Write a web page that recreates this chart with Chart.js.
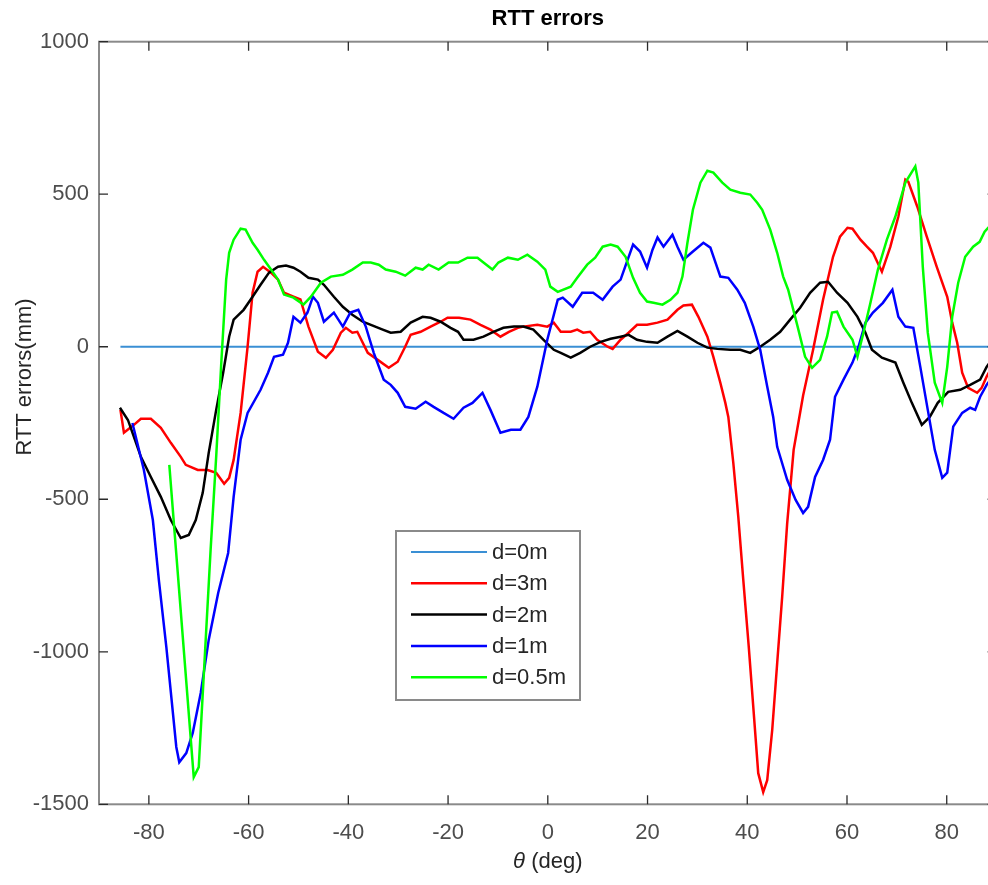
<!DOCTYPE html>
<html>
<head>
<meta charset="utf-8">
<title>RTT errors</title>
<script src="https://cdn.jsdelivr.net/npm/chart.js@4.4.1/dist/chart.umd.min.js"></script>
<style>
  html, body { margin: 0; padding: 0; background: #fff; overflow: hidden; }
  #wrap { width: 1000px; height: 885px; }
</style>
</head>
<body>
<div id="wrap"><canvas id="rttChart" width="1000" height="885"></canvas></div>
<script>
// axis ticks
const xTicks = [-80, -60, -40, -20, 0, 20, 40, 60, 80];
const yTicks = [-1500, -1000, -500, 0, 500, 1000];

const seriesNames = ['d=0m', 'd=3m', 'd=2m', 'd=1m', 'd=0.5m'];
const seriesColors = ['#3a8fd4', '#ff0000', '#000000', '#0000ff', '#00ff00'];

// [theta (deg), RTT error (mm)]
const err0m = [[-85.7, 0], [90, 0]];

const err3m = [[-85.7,-207],[-85.0,-282],[-83.0,-256],[-81.6,-236],[-79.6,-236],[-77.6,-266],[-75.6,-315],[-73.6,-361],[-72.6,-387],[-70.2,-404],[-68.2,-404],[-66.5,-413],[-64.9,-449],[-63.9,-430],[-63.0,-371],[-61.6,-217],[-60.2,0],[-59.2,177],[-58.2,246],[-57.1,262],[-55.5,243],[-54.1,220],[-52.9,177],[-51.0,164],[-49.6,155],[-48.0,66],[-46.1,-16],[-44.5,-36],[-43.1,-10],[-41.5,46],[-40.5,62],[-39.2,46],[-38.2,49],[-36.1,-20],[-34.1,-43],[-31.9,-69],[-30.1,-49],[-28.6,0],[-27.5,39],[-25.5,49],[-23.5,66],[-21.5,82],[-20.1,95],[-17.8,95],[-15.5,89],[-13.5,72],[-11.5,56],[-9.5,33],[-7.8,49],[-6.0,62],[-4.9,66],[-2.1,72],[-0.1,66],[1.2,79],[2.6,49],[4.6,49],[5.9,56],[7.1,46],[8.5,49],[9.9,23],[12.0,0],[13.0,-7],[14.6,23],[16.2,46],[17.9,72],[19.9,72],[22.0,79],[24.0,89],[26.0,121],[27.2,135],[28.9,138],[30.2,98],[32.0,33],[33.2,-33],[34.6,-118],[35.6,-184],[36.2,-230],[37.2,-381],[38.2,-558],[39.2,-764],[40.3,-984],[41.3,-1201],[42.2,-1398],[43.2,-1460],[44.0,-1421],[45.0,-1257],[46.0,-1037],[47.0,-820],[48.0,-580],[49.3,-338],[51.2,-160],[53.2,-10],[55.2,154],[57.2,295],[58.6,361],[60.1,390],[61.1,387],[62.7,351],[64.0,328],[65.2,308],[67.0,246],[68.7,328],[70.3,427],[71.7,548],[72.3,541],[74.1,459],[76.0,361],[78.0,262],[80.1,164],[81.1,79],[82.1,13],[83.1,-85],[84.3,-135],[86.1,-151],[87.0,-135],[88.0,-98],[90.0,-40]];

const err2m = [[-85.8,-200],[-84.2,-240],[-83.0,-295],[-81.6,-361],[-79.6,-427],[-77.6,-492],[-75.6,-568],[-73.6,-627],[-72.0,-617],[-70.6,-568],[-69.2,-479],[-68.0,-348],[-66.5,-207],[-65.1,-85],[-63.9,33],[-63.0,89],[-61.0,121],[-59.2,164],[-57.6,203],[-55.9,243],[-54.1,262],[-52.5,266],[-51.0,259],[-49.6,246],[-48.0,226],[-46.1,220],[-44.9,203],[-42.9,164],[-41.1,131],[-39.2,105],[-37.1,82],[-35.1,69],[-33.1,56],[-31.5,46],[-29.5,49],[-27.5,79],[-25.1,98],[-23.5,95],[-21.5,82],[-19.5,62],[-18.0,49],[-16.9,23],[-14.9,23],[-12.9,33],[-10.9,49],[-8.9,62],[-6.8,66],[-4.9,66],[-2.9,56],[-0.9,23],[1.2,-10],[2.6,-20],[4.6,-36],[6.5,-20],[8.5,0],[10.6,16],[12.6,26],[14.6,33],[16.2,39],[17.9,23],[19.9,16],[22.0,13],[24.0,33],[26.0,52],[28.0,33],[30.0,13],[32.0,-3],[34.0,-7],[36.6,-10],[38.6,-10],[40.6,-20],[42.6,0],[44.6,23],[46.6,49],[48.6,89],[50.6,128],[52.6,177],[54.6,210],[56.2,213],[58.0,177],[60.1,144],[62.1,98],[63.7,46],[65.0,-10],[67.0,-36],[69.7,-52],[71.3,-118],[73.0,-184],[75.0,-256],[76.6,-230],[78.2,-184],[80.3,-148],[82.7,-141],[84.7,-125],[86.7,-108],[88.0,-66],[90.0,-20]];

const err1m = [[-83.3,-250],[-81.0,-404],[-79.2,-568],[-78.0,-764],[-76.5,-984],[-75.5,-1148],[-74.5,-1312],[-73.9,-1362],[-72.5,-1332],[-71.2,-1266],[-69.6,-1135],[-68.0,-961],[-66.1,-807],[-64.1,-676],[-63.0,-492],[-61.6,-305],[-60.2,-217],[-57.6,-141],[-56.1,-85],[-54.9,-33],[-53.1,-26],[-52.1,13],[-51.0,98],[-49.6,79],[-48.2,112],[-47.1,164],[-46.1,144],[-44.9,82],[-42.9,112],[-41.1,66],[-39.6,112],[-38.0,121],[-36.5,66],[-34.9,-20],[-32.9,-108],[-31.5,-125],[-30.1,-151],[-28.6,-197],[-26.5,-203],[-24.5,-180],[-22.9,-197],[-20.9,-217],[-18.9,-236],[-16.9,-200],[-15.1,-184],[-13.1,-151],[-11.5,-207],[-9.5,-282],[-7.4,-272],[-5.5,-272],[-3.9,-230],[-2.1,-131],[-0.1,23],[2.0,154],[3.0,161],[5.0,131],[6.9,177],[9.1,177],[11.0,154],[13.0,197],[14.6,220],[16.0,285],[17.1,335],[18.5,312],[19.9,259],[21.0,318],[22.0,358],[23.2,328],[25.0,367],[26.0,328],[27.2,285],[29.1,312],[31.2,341],[32.6,325],[34.6,230],[36.2,226],[38.0,187],[39.5,144],[41.2,66],[42.6,-10],[44.0,-130],[45.2,-230],[46.0,-328],[48.0,-436],[49.7,-502],[51.2,-545],[52.2,-525],[53.6,-427],[55.2,-371],[56.6,-305],[57.6,-164],[59.3,-108],[61.1,-52],[62.3,0],[63.7,79],[65.2,112],[67.2,144],[69.1,187],[70.3,98],[71.7,66],[73.3,62],[74.7,-66],[76.2,-207],[77.6,-338],[79.1,-430],[80.1,-413],[81.3,-262],[83.1,-217],[84.7,-200],[85.7,-207],[86.7,-164],[88.0,-125],[90.0,-80]];

const err05m = [[-75.9,-387],[-71.0,-1411],[-70.0,-1378],[-68.6,-960],[-67.6,-660],[-66.5,-360],[-65.5,-60],[-64.5,220],[-63.9,308],[-63.0,351],[-61.6,387],[-60.6,384],[-59.2,341],[-58.2,318],[-56.9,285],[-55.5,253],[-54.1,220],[-52.9,171],[-51.0,161],[-49.0,138],[-47.5,164],[-45.5,210],[-43.5,230],[-41.1,236],[-39.2,253],[-37.1,276],[-35.5,276],[-33.9,269],[-32.5,253],[-30.5,246],[-28.6,233],[-26.5,259],[-25.1,253],[-23.9,269],[-21.9,253],[-19.9,276],[-18.0,276],[-16.1,292],[-14.1,292],[-12.9,276],[-11.1,253],[-9.9,276],[-8.0,292],[-6.0,285],[-4.1,302],[-2.1,279],[-0.5,253],[0.5,197],[2.0,180],[4.6,197],[5.9,226],[7.9,269],[9.5,292],[11.0,328],[12.6,335],[14.0,328],[15.6,295],[17.1,226],[18.5,177],[19.9,148],[21.2,144],[23.0,138],[24.6,154],[26.0,177],[27.0,230],[28.0,341],[29.1,449],[30.6,538],[32.0,577],[33.2,571],[35.0,538],[36.6,515],[38.6,505],[40.6,499],[42.0,472],[43.0,449],[44.6,384],[46.0,308],[47.2,230],[48.2,187],[50.1,66],[51.6,-33],[53.0,-69],[54.6,-43],[56.0,33],[57.0,112],[58.0,115],[59.3,66],[61.1,23],[62.1,-33],[63.3,46],[64.7,144],[66.2,253],[68.0,351],[69.7,427],[71.7,538],[73.7,591],[74.3,538],[75.2,262],[76.2,46],[77.6,-118],[79.1,-184],[80.1,-66],[81.1,98],[82.3,210],[83.7,295],[85.3,328],[86.6,344],[87.6,377],[90.0,420]];

const allSeries = [err0m, err3m, err2m, err1m, err05m];

const FONT = "'Liberation Sans', Arial, Helvetica, sans-serif";
const TXT = '#4d4d4d';

const datasets = allSeries.map((pts, i) => ({
  label: seriesNames[i],
  data: pts.map(p => ({ x: p[0], y: p[1] })),
  borderColor: seriesColors[i],
  borderWidth: i === 0 ? 2 : 2.5,
  pointRadius: 0,
  tension: 0,
  fill: false,
  // later series sit on top
  order: allSeries.length - i
}));

// box, inward ticks, titles and legend, matlab style
const decor = {
  id: 'decor',
  afterDatasetsDraw(chart) {
    const { ctx, chartArea: a, scales: { x, y } } = chart;
    ctx.save();

    ctx.strokeStyle = '#8a8a8a';
    ctx.lineWidth = 2;
    ctx.strokeRect(a.left, a.top, a.right - a.left, a.bottom - a.top);

    ctx.strokeStyle = '#2a2a2a';
    ctx.lineWidth = 1.3;
    ctx.beginPath();
    const tl = 9;
    xTicks.forEach(v => {
      const px = x.getPixelForValue(v);
      ctx.moveTo(px, a.bottom); ctx.lineTo(px, a.bottom - tl);
      ctx.moveTo(px, a.top); ctx.lineTo(px, a.top + tl);
    });
    yTicks.forEach(v => {
      const py = y.getPixelForValue(v);
      ctx.moveTo(a.left, py); ctx.lineTo(a.left + tl, py);
      ctx.moveTo(a.right, py); ctx.lineTo(a.right - tl, py);
    });
    ctx.stroke();

    // title
    const cx = (a.left + a.right) / 2;
    ctx.fillStyle = '#000';
    ctx.textAlign = 'center';
    ctx.textBaseline = 'middle';
    ctx.font = 'bold 22px ' + FONT;
    ctx.fillText('RTT errors', cx, 19);

    // y axis title
    ctx.fillStyle = '#262626';
    ctx.font = '22px ' + FONT;
    ctx.save();
    ctx.translate(25, 377);
    ctx.rotate(-Math.PI / 2);
    ctx.fillText('RTT errors(mm)', 0, 0);
    ctx.restore();

    // x axis title, theta in italics
    ctx.textAlign = 'left';
    ctx.font = 'italic 22px ' + FONT;
    const wTh = ctx.measureText('\u03b8').width;
    ctx.font = '22px ' + FONT;
    const rest = ' (deg)';
    const wRest = ctx.measureText(rest).width;
    const x0 = cx - (wTh + wRest) / 2;
    ctx.font = 'italic 22px ' + FONT;
    ctx.fillText('\u03b8', x0, 862);
    ctx.font = '22px ' + FONT;
    ctx.fillText(rest, x0 + wTh, 862);

    // legend
    const lx = 396, ly = 531, lw = 184, lh = 169;
    ctx.fillStyle = '#fff';
    ctx.fillRect(lx, ly, lw, lh);
    ctx.strokeStyle = '#8a8a8a';
    ctx.lineWidth = 2;
    ctx.strokeRect(lx, ly, lw, lh);
    ctx.font = '22px ' + FONT;
    ctx.textBaseline = 'middle';
    chart.data.datasets.forEach((ds, i) => {
      const ry = ly + 21 + i * 31.3;
      ctx.strokeStyle = ds.borderColor;
      ctx.lineWidth = ds.borderWidth;
      ctx.beginPath();
      ctx.moveTo(lx + 15, ry);
      ctx.lineTo(lx + 91, ry);
      ctx.stroke();
      ctx.fillStyle = '#262626';
      ctx.fillText(ds.label, lx + 96, ry + 1);
    });

    ctx.restore();
  }
};

new Chart(document.getElementById('rttChart'), {
  type: 'line',
  data: { datasets },
  options: {
    responsive: false,
    animation: false,
    devicePixelRatio: 1,
    layout: { padding: { top: 41.7, right: 3.4, left: 0, bottom: 0 } },
    scales: {
      x: {
        type: 'linear',
        min: -90,
        max: 90,
        grid: { display: false, drawTicks: false },
        border: { display: false },
        ticks: { color: TXT, font: { family: FONT, size: 22 }, padding: 15, maxRotation: 0, autoSkip: false,
                 callback: v => String(v) },
        afterBuildTicks: s => { s.ticks = xTicks.map(v => ({ value: v })); },
        afterFit: s => { s.height = 80.7; }
      },
      y: {
        min: -1500,
        max: 1000,
        grid: { display: false, drawTicks: false },
        border: { display: false },
        ticks: { color: TXT, font: { family: FONT, size: 22 }, padding: 10, callback: v => String(v) },
        afterBuildTicks: s => { s.ticks = yTicks.map(v => ({ value: v })); },
        afterFit: s => { s.width = 99; }
      }
    },
    plugins: {
      legend: { display: false },
      title: { display: false },
      tooltip: { enabled: false }
    }
  },
  plugins: [decor]
});
</script>
</body>
</html>
